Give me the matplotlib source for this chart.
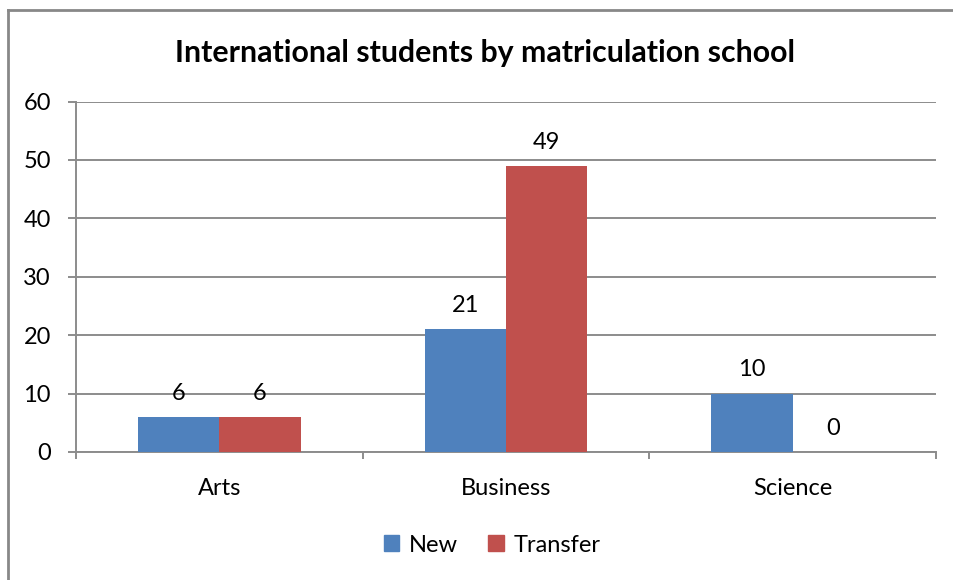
import matplotlib.pyplot as plt
from matplotlib.patches import Patch
from matplotlib.lines import Line2D
import numpy as np

plt.rcParams['font.family'] = ['Lato', 'DejaVu Sans']

categories = ['Arts', 'Business', 'Science']
new_vals = [6, 21, 10]
transfer_vals = [6, 49, 0]
series_names = ['New', 'Transfer']
colors = ['#4F81BD', '#C0504D']
grid_col = '#8c8c8c'
fs = 17

fig = plt.figure(figsize=(9.54, 5.8), dpi=100, facecolor='white')
ax = fig.add_axes([76 / 954, 1 - 452 / 580, (936 - 76) / 954, (452 - 101.5) / 580])

x = np.arange(len(categories))
w = 0.284
b1 = ax.bar(x - w / 2, new_vals, w, color=colors[0], zorder=3)
b2 = ax.bar(x + w / 2, transfer_vals, w, color=colors[1], zorder=3)

for bars, vals in [(b1, new_vals), (b2, transfer_vals)]:
    for r, v in zip(bars, vals):
        ax.annotate(str(v), (r.get_x() + r.get_width() / 2, v), xytext=(0, 17),
                    textcoords='offset points', ha='center', va='center', fontsize=fs)

ax.set_xlim(-0.5, 2.5)
ax.set_ylim(0, 60)
ax.set_yticks(range(0, 61, 10))
ax.yaxis.grid(True, color=grid_col, linewidth=1.4, zorder=0)
ax.set_axisbelow(True)

ax.set_xticks(x)
ax.set_xticklabels(categories)
ax.set_xticks([-0.5, 0.5, 1.5, 2.5], minor=True)
ax.tick_params(axis='x', which='major', length=0, pad=19, labelsize=fs)
ax.tick_params(axis='x', which='minor', length=5, width=1.4, color=grid_col)
ax.tick_params(axis='y', length=6, width=1.4, color=grid_col, pad=12, labelsize=fs)

for s in ['top', 'right']:
    ax.spines[s].set_visible(False)
for s in ['left', 'bottom']:
    ax.spines[s].set_color(grid_col)
    ax.spines[s].set_linewidth(1.4)

fig.text(485 / 954, 1 - 53 / 580, 'International students by matriculation school',
         ha='center', va='center', fontsize=21.8, fontweight='bold')

handles = [Patch(color=c, label=n) for c, n in zip(colors, series_names)]
fig.legend(handles=handles, loc='center', bbox_to_anchor=(492 / 954, 1 - 545 / 580), ncol=2,
           frameon=False, fontsize=fs, handlelength=0.65, handleheight=0.65,
           handletextpad=0.4, columnspacing=1.3)

# chart-area border, only the left and top edges are inside the picture
bx, by = 8 / 954, 1 - 10 / 580
fig.add_artist(Line2D([bx, bx], [0, by], transform=fig.transFigure, color='#888888', linewidth=2))
fig.add_artist(Line2D([bx, 1], [by, by], transform=fig.transFigure, color='#888888', linewidth=2))

fig.savefig('out.png', dpi=100)
